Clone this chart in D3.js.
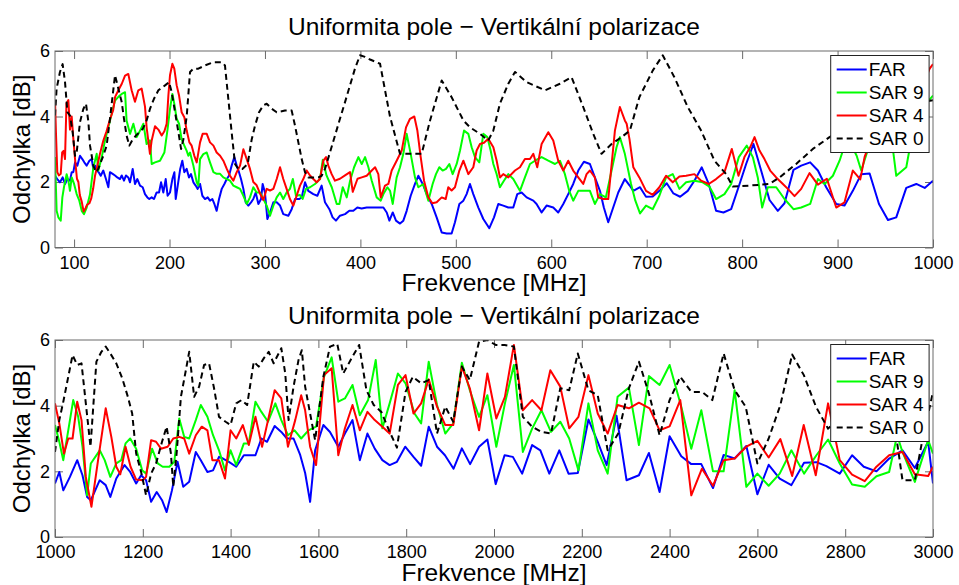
<!DOCTYPE html>
<html><head><meta charset="utf-8">
<script src="https://cdn.jsdelivr.net/npm/d3@7"></script>
<style>
body{margin:0;background:#fff}
svg{display:block}
text{font-family:"Liberation Sans",Arial,Helvetica,sans-serif;fill:#000}
</style></head>
<body><svg id="c" width="959" height="585"></svg>
<script>
// ---------- DATA ----------
const titleText = "Uniformita pole \u2212 Vertikální polarizace";
const xLabel = "Frekvence [MHz]";
const yLabel = "Odchylka [dB]";
const seriesNames = ["FAR", "SAR 9", "SAR 4", "SAR 0"];
const xTicksTop = [100,200,300,400,500,600,700,800,900,1000];
const xTicksBottom = [1000,1200,1400,1600,1800,2000,2200,2400,2600,2800,3000];
const yTicks = [0,2,4,6];

// top panel (80-1000 MHz): [frequency MHz, deviation dB]
const topFAR = [[80,2.19],[82.4,2.09],[85.2,1.99],[88,2.14],[90.5,1.94],[93,2.09],[95.7,2.04],[97.5,2.3],[99.2,2.3],[101,2.6],[103.4,2.5],[106.2,2.8],[108.6,2.7],[110.7,2.6],[113.2,2.5],[116,2.65],[118.4,2.7],[120.2,2.4],[122,2.5],[123.7,2.35],[125.8,2.3],[127.9,2.19],[130.6,2.35],[133.4,2.09],[135.9,1.84],[137.6,2.3],[140.4,2.25],[142.9,2.2],[145.3,2.14],[148.1,2.09],[149.9,2.2],[152.3,2.04],[154.4,2.2],[156.8,2.14],[158.6,1.99],[161.4,2.4],[163.8,1.94],[166.3,2.09],[169.1,1.89],[171.9,1.84],[174.3,1.63],[176.8,1.53],[178.8,1.48],[181.3,1.53],[183.7,1.48],[186.5,1.68],[189,1.68],[191.1,1.99],[193.5,1.68],[196,2.09],[198,1.58],[200.5,1.68],[203,2.09],[205.1,2.3],[206.5,1.48],[208.6,1.89],[211.2,2.4],[213.4,2.65],[215.5,2.3],[218,2.4],[220.4,2.14],[222.5,2.24],[225,1.99],[227.4,1.89],[229.5,1.79],[232,1.94],[234.4,1.58],[237.2,1.48],[240,1.53],[242.4,1.43],[244.9,1.48],[247,1.33],[249.4,1.12],[251.9,1.48],[254.7,1.79],[257.5,1.94],[260,2.09],[262.3,2.19],[265.1,2.5],[267.9,2.76],[270.4,2.5],[272.8,2.3],[274.9,2.09],[277.4,1.79],[279.8,1.38],[282.6,1.28],[285.4,1.38],[287.8,1.48],[290.3,1.68],[293.1,1.33],[295.9,1.48],[297.6,1.94],[300,1.68],[302.5,0.87],[305.3,1.07],[308.8,1.38],[312.3,1.38],[315.8,1.28],[319.2,1.02],[324.5,0.97],[328,1.17],[331.5,1.48],[336,1.48],[338.5,1.53],[342,1.99],[345.4,1.73],[350.7,1.63],[354.9,1.58],[359.4,1.89],[362.9,1.38],[367.5,1.17],[370.9,0.92],[374.4,0.82],[378.6,0.97],[383.9,1.02],[388.4,1.12],[392.6,1.12],[396.8,1.22],[401.3,1.19],[406.6,1.22],[417.1,1.22],[424.1,1.22],[427.6,1.07],[430.4,0.82],[433.9,1.07],[437.3,0.82],[441.5,0.73],[445,0.82],[448.5,1.12],[452.7,1.58],[457.2,1.94],[460.7,2.19],[465.3,1.94],[469.5,1.63],[474.7,1.33],[479.9,0.92],[485.2,0.46],[490.4,0.43],[495.6,0.43],[499.1,0.77],[503.7,1.33],[507.9,1.43],[511.3,1.63],[514.8,1.94],[518.3,1.63],[523.6,1.22],[528.8,0.87],[535.1,0.59],[540,0.92],[544.5,1.33],[549.7,1.28],[555,1.22],[560.2,1.22],[564.4,1.63],[568.9,1.68],[574.2,1.53],[581.2,1.43],[584.6,1.33],[589.9,1.07],[595.1,1.28],[602.1,1.22],[607.3,1.07],[612.6,1.33],[617.8,1.63],[623,1.94],[628.3,2.35],[634.2,2.62],[640.5,2.55],[645.7,2.14],[651,1.73],[655.1,1.22],[659.7,0.77],[664.9,1.22],[670.2,1.68],[677.1,2.09],[682,1.9],[686,1.73],[693,1.84],[699.3,1.55],[706.3,1.56],[713.3,1.73],[721,1.96],[728,1.65],[735,1.55],[743,1.73],[750,2.04],[757.7,2.45],[765,1.94],[772.7,1.12],[780.4,1.07],[788.5,1.17],[796.2,1.84],[804.2,2.55],[811.9,3.16],[819.9,2.35],[828.7,1.45],[837.4,1.12],[844.4,1.35],[853.8,2.37],[861.9,2.5],[871.3,2.6],[879.4,2.35],[888.1,1.84],[898.6,1.33],[907.3,1.28],[916,1.73],[924.8,2.24],[933.6,2.26],[943.4,1.33],[952.8,0.84],[961.5,0.92],[972,1.82],[982.5,1.94],[991.3,1.82],[1000,2.04]];

const topSAR9 = [[80,2.76],[81.7,1.12],[83.5,0.92],[86,0.82],[87.7,1.53],[89.4,1.84],[92.2,2.24],[94,2.04],[95.7,1.73],[97.5,2.14],[100,1.94],[102.7,1.63],[105.5,1.43],[108,1.12],[110.4,1.02],[113.2,1.22],[116.7,1.63],[120.2,2.45],[123.7,2.86],[125.4,2.35],[129,2.76],[132.4,3.27],[135.9,3.67],[139.4,4.08],[142.9,4.49],[146.4,4.6],[149.9,4.69],[153.4,4.74],[155,3.88],[158.6,3.47],[162.1,3.78],[165.6,3.37],[169.1,3.57],[172.6,3.78],[176,3.16],[179.5,3.27],[181.3,2.55],[184.8,2.6],[190,2.65],[194.6,2.9],[198,3.62],[200.5,4.23],[203,4.69],[205,4.39],[207.5,3.93],[210,3.78],[212.7,3.3],[215.5,3.11],[218,2.95],[219.7,2.8],[221.5,2.9],[225,2.5],[228.5,1.99],[230.2,1.89],[232,2.7],[235.4,2.85],[239,2.9],[242.4,2.6],[246,2.3],[249.4,2.25],[253,2.25],[256.4,2.14],[260,2.09],[263.4,2.04],[266.9,1.89],[270.4,1.84],[273.9,1.79],[277.4,1.58],[280.9,1.33],[284.3,1.53],[287.8,1.84],[291.3,1.68],[294.8,1.68],[298.3,1.48],[301.8,1.28],[305.3,0.97],[308.8,1.28],[312.3,1.53],[315.8,1.68],[319.2,1.48],[322.7,1.68],[326.2,1.79],[329.2,2.09],[332.5,1.58],[336.7,1.6],[339.5,1.48],[343,1.79],[347.2,1.84],[352.4,1.94],[357.7,2.09],[360.6,2.68],[364.5,2.2],[370,1.84],[375.2,1.33],[378,1.33],[381.5,1.84],[385.7,1.53],[389.2,2.04],[393.4,2.45],[397.9,2.76],[401.4,2.55],[404.9,2.76],[408.4,2.45],[411.9,2.04],[417.1,1.53],[421.3,1.43],[424.1,1.63],[428.3,1.84],[431.1,1.73],[433.9,1.33],[438,2.14],[441.5,2.45],[445,2.86],[448.5,3.47],[452.7,2.86],[457.2,2.14],[460.7,1.84],[466,1.94],[471.2,1.43],[475.7,1.94],[479.2,2.24],[482.7,2.45],[486.2,2.35],[489.7,2.4],[493.2,2.55],[496.7,2.24],[500.9,2.55],[504.4,2.96],[508.6,3.57],[513.1,3.47],[516.6,3.06],[520.1,2.76],[524.6,2.6],[528.8,3.47],[533,3.37],[536.5,2.96],[539.3,2.55],[542.8,2.24],[546.2,1.84],[550.4,2.04],[555,2.24],[560.2,2.09],[567.2,1.73],[572.4,2.14],[577.7,2.55],[582.9,2.65],[589.9,2.76],[596.9,2.65],[603.9,2.55],[609.1,2.65],[614.3,2.24],[618.8,1.73],[623,1.43],[628.3,1.73],[635.2,1.73],[640.5,1.73],[645.7,1.33],[651,1.63],[657.2,1.53],[663.2,2.35],[668.4,3.06],[671.9,3.37],[677.1,2.86],[683.6,1.94],[688.1,1.43],[693,1.04],[699.3,1.28],[706.3,1.17],[713.3,1.58],[720.3,2.14],[727.3,2.24],[734.3,1.79],[741.3,1.99],[750,2.04],[758.7,1.99],[765.7,1.86],[772.7,1.48],[781.5,1.63],[788.5,1.94],[796.5,2.76],[804.9,3.11],[811.2,2.76],[816.4,2.14],[821,1.22],[826.9,1.84],[835.7,1.84],[844.4,1.48],[853.8,1.17],[861.9,1.22],[871.3,1.33],[879.4,2.09],[886.4,1.94],[895.1,2.19],[902.1,2.65],[909.1,3.27],[915,3.1],[920,2.8],[924.8,2.35],[932,3.0],[942,3.6],[952,3.7],[958,3.0],[961.5,2.19],[972,2.45],[979,3.57],[990,4.3],[1000,4.64]];

const topSAR4 = [[80,4.5],[81,3.5],[82.4,2.3],[84,2.2],[86,2.25],[87.5,2.9],[89,2.95],[90.5,2.7],[92,4.4],[94,4.5],[95.7,3.6],[97.5,4.0],[99,3.4],[101,2.7],[103,2.1],[104.5,2.0],[106,1.6],[108,1.4],[110,1.1],[112,1.2],[113.5,1.3],[116,1.35],[118,1.5],[120,1.8],[122,2.2],[124,2.45],[127,2.85],[130.5,3.25],[134,3.55],[137.5,3.9],[141,4.2],[143,4.6],[146.4,4.8],[150,5.0],[153.4,5.25],[156.8,5.3],[160.3,4.8],[163.8,4.45],[167.3,4.8],[170.8,4.85],[174.3,4.3],[176,3.67],[179.5,2.86],[181.3,3.27],[184.8,3.7],[188.3,3.6],[191.8,3.42],[194.6,3.55],[197,3.78],[198.8,4.64],[200.5,5.26],[203,5.61],[205,5.46],[207.5,4.95],[210,4.64],[212.7,4.13],[215.5,3.98],[218,3.57],[220.8,3.21],[223.2,3.11],[226,2.8],[228.5,2.6],[232,3.21],[234.7,3.47],[239,3.47],[242.4,3.21],[246,3.11],[249.4,2.9],[253,2.8],[256.4,2.65],[260,2.4],[263.4,2.19],[266.9,2.04],[270.4,2.3],[273.9,2.5],[277.4,3.0],[280.9,2.7],[284.3,2.4],[287.8,2.0],[291.3,1.9],[294.8,1.65],[298.3,1.45],[301.8,1.79],[305.3,1.74],[308.8,1.79],[312.3,2.09],[315.8,2.45],[319.2,2.09],[322.7,1.79],[326.2,1.48],[329.7,1.28],[333.2,1.58],[336.7,1.89],[340.2,2.09],[343.7,2.35],[347.2,2.2],[350.7,2.09],[354.2,1.99],[357.7,2.1],[361.2,2.65],[364,2.76],[366.4,2.5],[369.9,2.24],[373.4,2.04],[378.6,2.1],[383.9,2.2],[389.1,2.3],[392,1.7],[397,2.1],[401.4,2.14],[406.6,2.19],[411.9,2.35],[415.4,2.45],[418.8,2.24],[421.3,1.53],[425.8,1.89],[429.3,1.94],[432.8,2.35],[438,2.65],[443.3,2.96],[447.8,3.67],[452,3.93],[456.5,4.0],[459.7,3.57],[463.2,2.76],[466.7,2.04],[471.2,1.53],[475.4,1.35],[479.9,1.38],[485.2,1.53],[489.4,1.48],[492.1,1.84],[495.6,1.74],[499.1,1.84],[503.7,2.35],[507.9,2.65],[513.1,2.24],[518.3,2.45],[521.8,2.96],[525.3,3.16],[529.5,3.2],[534,3.32],[539.3,3.06],[542.8,2.65],[546.2,2.14],[549.7,2.24],[555,2.14],[562,2.35],[567.2,2.45],[572.4,2.7],[577.7,2.7],[581.2,2.86],[585.3,2.45],[589.9,3.16],[596.9,3.52],[602.1,3.27],[607.3,2.65],[612.6,2.35],[617.8,2.65],[623,2.35],[628.3,2.14],[633.5,1.94],[637,2.24],[640.5,2.35],[645.7,2.14],[649.2,1.53],[654.5,1.48],[659.7,1.48],[666.7,3.57],[671.9,4.29],[677.1,3.88],[679,3.78],[682,3.3],[686,2.45],[692.3,2.14],[699.3,1.73],[706.3,1.61],[713.3,1.84],[720.3,2.19],[727.3,1.99],[734.3,2.17],[741.3,2.19],[750,2.24],[757,2.04],[765,1.94],[772.7,2.09],[781.5,2.3],[789.2,3.01],[796.2,2.19],[802.4,2.76],[808.4,3.06],[813,3.37],[818.2,2.96],[823.4,2.7],[829.4,2.35],[835.7,2.14],[842.7,1.94],[847.9,1.79],[854.9,1.57],[861.9,1.79],[870.6,2.27],[879.4,1.92],[888.8,2.1],[898.6,1.22],[907.3,1.38],[916,2.35],[923.8,2.08],[928.3,2.76],[935,3.3],[950,3.9],[970,4.4],[990,5.0],[996.5,5.46],[1000,5.6]];

const topSAR0 = [[80,4.03],[81.7,4.85],[85.2,5.36],[88,5.6],[90.5,5.05],[93,4.13],[95.7,4.03],[98.5,3.52],[101,2.8],[102.7,2.9],[106.2,3.83],[109.7,4.23],[112.5,4.39],[115,3.83],[116.7,3.11],[120.2,2.5],[123,2.3],[125.4,2.4],[127.9,2.6],[130.6,2.8],[134.1,3.11],[137.6,3.93],[140.4,4.64],[142.9,5.26],[146.4,4.85],[149.9,4.44],[152.3,3.93],[155,3.42],[157.9,3.11],[161.4,3.3],[164.9,3.42],[168.4,3.52],[171.9,3.62],[176,3.88],[179.5,4.23],[183.7,4.54],[188.3,4.8],[195.3,4.95],[199.5,5.05],[202.3,4.74],[205.8,4.13],[209.3,3.52],[212.1,3.01],[214.5,3.3],[218,4.0],[221.5,5.36],[225,5.46],[230.2,5.46],[237.2,5.56],[246,5.66],[254.7,5.66],[258.1,5.56],[261.6,4.54],[265.1,3.52],[268.6,2.55],[272.1,2.4],[276.3,2.4],[281.9,2.55],[286.1,3.3],[289.6,3.72],[293.8,4.13],[298.3,4.34],[301.8,4.39],[307,4.24],[312.3,4.13],[321,4.18],[328,4.18],[331.5,3.72],[335,3.21],[338.5,2.7],[342,2.3],[345.4,2.14],[355.9,2.14],[359.4,2.19],[362.9,2.4],[368.2,2.91],[373.4,3.42],[378.6,3.93],[383.9,4.44],[389.1,4.95],[394.3,5.46],[399.6,5.87],[404.8,5.82],[410.1,5.74],[420.6,5.61],[431,4.0],[441.5,2.86],[452,2.86],[464.2,2.86],[473,3.88],[485.2,5.1],[495.6,4.59],[507.9,3.88],[514.8,3.67],[525.3,3.47],[534,3.27],[539.3,3.57],[546.2,4.39],[555,5.0],[562,5.36],[574.2,5.05],[593.4,4.8],[609.1,5.0],[621.3,5.2],[633.5,4.29],[644,3.47],[652.7,2.86],[663.2,3.16],[673.6,3.37],[682.4,3.57],[692.3,4.59],[706.3,5.4],[716.8,5.87],[729,5.2],[743,4.29],[757,3.57],[771,2.65],[783.2,2.24],[790.2,1.86],[807.7,1.89],[828.7,1.94],[839.2,2.14],[856.6,2.55],[874.1,3.01],[891.6,3.37],[920,3.9],[960,4.3],[1000,4.5]];

// bottom panel (1000-3000 MHz)
const botFAR = [[1000,1.63],[1009.8,1.98],[1018.9,1.42],[1034,1.83],[1050.6,2.34],[1062.6,1.88],[1073.2,1.22],[1081.6,1.12],[1101.9,1.73],[1115.5,1.58],[1126,1.22],[1139.6,1.78],[1158.5,2.19],[1171.3,1.98],[1184.9,1.63],[1196.2,1.88],[1207.5,1.73],[1218.9,1.07],[1231.7,1.37],[1243.8,1.12],[1254.3,0.76],[1266.4,1.42],[1279.2,2.29],[1292.1,1.53],[1305.7,1.68],[1320.7,2.59],[1332.1,2.34],[1347.2,1.98],[1360,2.03],[1373.6,2.44],[1382.6,2.39],[1396.2,2.29],[1412.8,2.14],[1430.2,2.49],[1441.5,2.49],[1456.6,2.49],[1470.2,3.0],[1483,2.9],[1500.4,3.38],[1515.5,3.2],[1528.3,3.0],[1543.4,3.0],[1558.5,2.5],[1569.8,1.95],[1581.1,1.07],[1592.5,2.64],[1611.3,3.41],[1626.4,3.2],[1645.3,2.75],[1660.4,3.15],[1677.7,3.56],[1694.3,2.34],[1711.7,3.15],[1728.3,2.69],[1745.7,2.34],[1762.3,2.19],[1778.9,2.29],[1797.7,2.75],[1816.6,2.44],[1834,2.17],[1851.3,3.36],[1870.2,2.75],[1888.3,2.49],[1907.9,2.08],[1926.8,2.7],[1945.6,2.22],[1966,2.75],[1984.9,2.97],[2003.8,1.61],[2024.1,2.49],[2043,2.44],[2064.1,1.93],[2086.8,2.8],[2105.6,2.64],[2126,1.93],[2148.7,2.64],[2169.8,1.93],[2190.9,1.95],[2215.1,3.58],[2236.3,2.9],[2256.6,2.19],[2279.2,3.69],[2301.9,1.73],[2330.1,1.88],[2352.9,2.56],[2377.2,1.37],[2400,3.07],[2426.6,2.46],[2449.4,2.22],[2472.2,2.22],[2498.8,1.49],[2523.1,2.5],[2548.2,2.39],[2574.8,2.77],[2599.9,1.3],[2625.7,2.2],[2650.8,1.78],[2677.4,1.58],[2706.3,2.26],[2734.4,2.28],[2757.2,2.16],[2787.6,1.93],[2815.7,2.49],[2842.3,2.14],[2871.2,2.0],[2900.1,2.39],[2930.5,2.64],[2958.6,2.1],[2989,2.9],[3000,1.63]];

const botSAR9 = [[1000,3.41],[1009.8,2.9],[1018.9,2.34],[1030.2,3.25],[1041.5,4.17],[1052.8,3.66],[1062.6,2.75],[1073.2,1.27],[1081.6,2.24],[1101.9,2.64],[1113.2,2.34],[1126,1.83],[1139.6,2.24],[1150.9,2.34],[1160.7,2.85],[1171.3,3.0],[1184.9,2.69],[1198.5,2.03],[1207.5,1.93],[1221.1,2.69],[1234,2.24],[1245.3,2.14],[1260.4,2.14],[1271.7,2.29],[1283,3.61],[1294.3,3.05],[1305.7,3.0],[1320.7,3.56],[1332.1,4.02],[1347.2,3.66],[1360,3.1],[1373.6,2.64],[1387.2,2.03],[1399.9,2.64],[1412.8,2.19],[1430.2,2.85],[1441.5,2.85],[1456.6,4.12],[1470.2,3.81],[1485.3,3.51],[1501.9,4.07],[1515.5,3.56],[1530.6,3.1],[1545.7,3.25],[1560.8,3.0],[1577.4,3.25],[1594.7,3.36],[1612.8,4.88],[1630.2,5.47],[1645.3,4.12],[1660.4,4.22],[1677.7,4.63],[1694.3,3.71],[1713.2,4.17],[1730.6,5.39],[1745.7,3.31],[1762.3,4.07],[1781.1,4.98],[1798.5,4.68],[1818.9,3.76],[1834,3.46],[1851.3,5.34],[1870.2,4.02],[1889,3.15],[1907.2,3.46],[1926.8,5.31],[1944.9,4.47],[1966,3.66],[1984.9,4.32],[2005.3,2.75],[2024.9,4.07],[2045.3,5.24],[2065.7,2.59],[2086.8,3.3],[2108,3.86],[2129.8,3.2],[2151,3.51],[2171.3,3.0],[2192.4,2.03],[2215.1,4.07],[2236.3,2.64],[2258.9,1.93],[2281.5,4.27],[2307.3,4.55],[2330.1,2.8],[2352.9,4.9],[2377.2,4.63],[2400,5.24],[2426.6,3.97],[2449.4,2.69],[2472.2,3.86],[2498.8,2.0],[2523.1,2.0],[2548.2,4.47],[2574.8,1.53],[2599.9,1.93],[2625.7,1.56],[2650.8,1.93],[2677.4,2.64],[2706.3,1.93],[2734.4,2.49],[2761,2.97],[2787.6,2.24],[2815.7,1.6],[2844.6,1.53],[2871.2,1.85],[2900.1,1.98],[2918.3,3.1],[2930.5,2.59],[2958.6,1.68],[2989,2.95],[3000,2.54]];

const botSAR4 = [[1000,4.07],[1009.8,3.46],[1020.4,2.54],[1030.2,3.0],[1040,3.0],[1050.6,4.12],[1060.4,3.56],[1070.2,1.83],[1083,0.92],[1098.1,2.34],[1115.5,3.92],[1128.3,3.05],[1139.6,2.14],[1148.7,1.91],[1160.7,2.75],[1172.1,2.14],[1184.9,1.75],[1200,1.73],[1207.5,1.83],[1218.9,2.95],[1230.2,2.9],[1241.5,2.69],[1256.6,2.75],[1269.4,3.0],[1283,3.05],[1294.3,3.0],[1305.7,2.54],[1320.7,3.1],[1334.3,3.36],[1347.2,3.25],[1358.5,2.34],[1373.6,2.34],[1387.2,1.78],[1399.9,3.25],[1412.8,3.0],[1427.9,3.41],[1441.5,2.8],[1456.6,3.66],[1471.7,2.75],[1485.3,3.56],[1500.4,4.47],[1515.5,4.22],[1530.6,2.75],[1547.2,3.56],[1560.8,4.32],[1569.8,3.86],[1581.1,2.75],[1594.7,2.19],[1612.8,4.93],[1630.2,5.14],[1645.3,2.49],[1660.4,3.31],[1677.7,4.02],[1694.3,3.25],[1711.7,3.81],[1728.3,3.56],[1745.7,3.36],[1762.3,3.15],[1781.1,4.63],[1798.5,4.93],[1816.6,3.76],[1834,4.07],[1851.3,4.8],[1870.2,3.97],[1889,3.41],[1907.2,3.41],[1926.8,5.19],[1944.9,4.53],[1966,3.25],[1984.9,4.98],[2005.3,3.61],[2024.9,4.27],[2045.3,5.85],[2065.7,3.86],[2086.8,4.17],[2108,3.86],[2128.3,5.08],[2151,4.58],[2171.3,3.31],[2192.4,3.66],[2215.1,4.93],[2236.3,3.76],[2258.9,3.15],[2281.5,4.02],[2307.3,3.92],[2330.1,4.09],[2354.4,3.92],[2377.2,3.25],[2400,3.37],[2424.3,4.17],[2449.4,1.27],[2473.7,2.08],[2498.8,1.56],[2523.1,2.34],[2548.2,2.39],[2574.8,2.75],[2599.9,2.93],[2625.7,2.42],[2652.3,2.98],[2679.2,1.86],[2705.5,3.41],[2732.9,1.88],[2761,4.07],[2787.6,2.34],[2815.7,1.9],[2844.6,1.7],[2871.2,2.14],[2900.1,2.49],[2930.5,2.59],[2958.6,1.91],[2989,1.86],[3000,2.14]];

const botSAR0 = [[1000,2.59],[1009.8,3.56],[1018.9,4.12],[1030.2,4.88],[1040,5.54],[1050.6,5.24],[1060.4,5.29],[1070.2,4.07],[1080.8,2.75],[1094.3,5.34],[1105.7,5.64],[1115.5,5.8],[1126,5.59],[1139.6,5.29],[1153.2,4.83],[1166,4.27],[1175.8,3.76],[1184.9,2.54],[1196.2,1.98],[1207.5,1.27],[1218.9,1.93],[1230.2,2.24],[1243.8,2.9],[1254.3,3.36],[1264.1,2.54],[1269.4,1.53],[1277,2.54],[1286.8,4.27],[1298.1,5.08],[1305.7,5.64],[1317,4.27],[1328.3,4.58],[1339.6,5.24],[1350.9,5.29],[1362.3,4.53],[1373.6,3.66],[1388.7,3.51],[1399.9,3.41],[1412.8,4.07],[1424.9,4.17],[1437.7,4.02],[1452.8,5.34],[1464.1,5.19],[1475.5,5.44],[1486.8,5.64],[1498.1,5.29],[1505.6,5.49],[1515.5,5.75],[1524.5,4.98],[1532.1,3.56],[1543.4,4.58],[1554.7,5.39],[1562.3,5.69],[1569.8,4.58],[1581.1,3.76],[1592.5,2.95],[1611.3,4.88],[1626.4,5.8],[1643,5.88],[1656.6,4.98],[1675.5,5.44],[1692.8,5.85],[1709.4,4.47],[1726,4.02],[1743.4,3.81],[1760.8,3.25],[1778.9,2.72],[1798.5,4.42],[1815.1,4.88],[1834,4.68],[1851.3,4.78],[1870.2,3.15],[1889,3.97],[1907.2,3.51],[1926.8,5.19],[1944.9,4.78],[1966,5.95],[1984.9,6.0],[2003.8,5.85],[2024.1,5.85],[2045.3,5.8],[2065.7,3.66],[2086.8,3.36],[2108,3.2],[2129.8,3.15],[2151,4.53],[2171.3,4.47],[2190.9,5.59],[2215.1,4.47],[2236.3,4.32],[2258.9,2.64],[2283,3.15],[2307.3,4.53],[2330.1,5.34],[2352.9,4.37],[2377.2,3.1],[2400,4.17],[2424.3,4.88],[2449.4,4.42],[2473.7,4.42],[2497.3,4.17],[2523.1,5.59],[2548.2,4.47],[2573.3,3.97],[2599.9,2.24],[2625.7,3.0],[2652.3,4.02],[2679.2,5.56],[2705.8,4.93],[2733.3,3.97],[2761,3.3],[2800,3.8],[2850,4.0],[2900,3.5],[2918,2.9],[2930.5,1.73],[2958.6,1.73],[2975,2.9],[3000,4.42]];

// ---------- DRAWING ----------
const colors = ["#0000ff", "#00ff00", "#ff0000", "#000000"];
const dashes = [null, null, null, "6,4"];
const L = 55, R = 933;
const panels = [
  {top: 51, bottom: 247.5, domain: [80, 1000], ticks: xTicksTop, series: [topFAR, topSAR9, topSAR4, topSAR0]},
  {top: 340, bottom: 537, domain: [1000, 3000], ticks: xTicksBottom, series: [botFAR, botSAR9, botSAR4, botSAR0]}
];
const svg = d3.select("#c");
const axisColor = "#6a6a6a";

panels.forEach((p, i) => {
  const x = d3.scaleLinear().domain(p.domain).range([L, R]);
  const y = d3.scaleLinear().domain([0, 6]).range([p.bottom, p.top]);
  const g = svg.append("g");

  const cid = "clip" + i;
  svg.append("clipPath").attr("id", cid).append("rect")
    .attr("x", L).attr("y", p.top).attr("width", R - L).attr("height", p.bottom - p.top);

  const ax = (sel) => { sel.select(".domain").remove(); sel.selectAll(".tick line").attr("stroke", axisColor); sel.selectAll("text").style("font-size", "18px").attr("fill", "#000"); };
  g.append("g").attr("transform", `translate(0,${p.bottom})`)
    .call(d3.axisBottom(x).tickValues(p.ticks).tickSize(-8).tickPadding(8.5).tickFormat(d3.format("d"))).call(ax);
  g.append("g").attr("transform", `translate(0,${p.top})`)
    .call(d3.axisTop(x).tickValues(p.ticks).tickSize(-8).tickFormat("")).call(ax);
  g.append("g").attr("transform", `translate(${L},0)`)
    .call(d3.axisLeft(y).tickValues(yTicks).tickSize(-8).tickPadding(5).tickFormat(d3.format("d"))).call(ax);
  g.append("g").attr("transform", `translate(${R},0)`)
    .call(d3.axisRight(y).tickValues(yTicks).tickSize(-8).tickFormat("")).call(ax);
  g.selectAll("text").attr("font-family", '"Liberation Sans",Arial,sans-serif');

  const line = d3.line().x(d => x(d[0])).y(d => y(d[1]));
  const lg = g.append("g").attr("clip-path", `url(#${cid})`);
  p.series.forEach((s, k) => {
    lg.append("path").datum(s).attr("d", line)
      .attr("fill", "none").attr("stroke", colors[k]).attr("stroke-width", 2)
      .attr("stroke-linejoin", "round")
      .attr("stroke-dasharray", dashes[k]);
  });

  g.append("rect").attr("x", L).attr("y", p.top).attr("width", R - L).attr("height", p.bottom - p.top)
    .attr("fill", "none").attr("stroke", axisColor).attr("stroke-width", 1);

  g.append("text").attr("x", (L + R) / 2).attr("y", p.top - 16).attr("text-anchor", "middle")
    .style("font-size", "24.5px").text(titleText);
  g.append("text").attr("x", (L + R) / 2).attr("y", p.bottom + 43.5).attr("text-anchor", "middle")
    .style("font-size", "24.5px").text(xLabel);
  g.append("text").attr("transform", `translate(30,${(p.top + p.bottom) / 2}) rotate(-90)`)
    .attr("text-anchor", "middle").style("font-size", "24px").text(yLabel);

  const lx = 830.7, ly = p.top + 4.5, lw = 98.4, lh = 97;
  const leg = g.append("g");
  leg.append("rect").attr("x", lx).attr("y", ly).attr("width", lw).attr("height", lh)
    .attr("fill", "#fff").attr("stroke", "#222").attr("stroke-width", 1);
  seriesNames.forEach((n, k) => {
    const cy = ly + 14 + k * 23;
    leg.append("line").attr("x1", lx + 6).attr("x2", lx + 36).attr("y1", cy).attr("y2", cy)
      .attr("stroke", colors[k]).attr("stroke-width", 2).attr("stroke-dasharray", dashes[k]);
    leg.append("text").attr("x", lx + 38).attr("y", cy).attr("dy", "0.36em")
      .style("font-size", "19px").text(n);
  });
});
</script>
</body></html>
